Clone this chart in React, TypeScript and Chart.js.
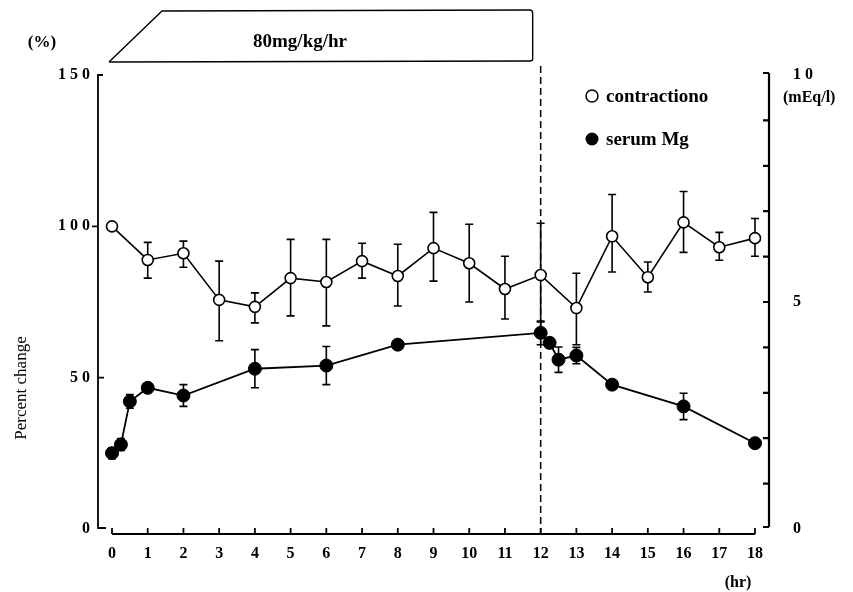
import React, { useEffect, useRef } from 'react';
import { Chart, registerables } from 'chart.js';

Chart.register(...registerables);

// ---- data ----
const hours = [0, 1, 2, 3, 4, 5, 6, 7, 8, 9, 10, 11, 12, 13, 14, 15, 16, 17, 18];
const contraction = [100, 88.9, 91.1, 75.7, 73.4, 82.9, 81.6, 88.5, 83.6, 92.8, 87.8, 79.3, 83.9, 73.0, 96.7, 83.2, 101.3, 93.1, 96.1];
const contractionHigh = [null, 94.7, 95.1, 88.5, 78.0, 95.7, 95.7, 94.4, 94.1, 104.6, 100.7, 90.1, 101.0, 84.5, 110.5, 88.2, 111.5, 98.0, 102.6];
const contractionLow = [null, 82.9, 86.5, 62.2, 68.1, 70.4, 67.1, 82.9, 73.7, 81.9, 75.0, 69.4, 68.4, 60.9, 84.9, 78.3, 91.4, 88.8, 90.1];

const mgHours = [0, 0.25, 0.5, 1, 2, 4, 6, 8, 12, 12.25, 12.5, 13, 14, 16, 18];
const serumMg = [1.67, 1.86, 2.81, 3.11, 2.94, 3.53, 3.6, 4.06, 4.32, 4.1, 3.73, 3.82, 3.18, 2.7, 1.89];
const serumMgErr = [0.12, 0.13, 0.15, 0.09, 0.24, 0.42, 0.42, 0.09, 0.26, 0.1, 0.28, 0.18, 0.1, 0.29, 0.1];

const leftTicks = [0, 50, 100, 150];
const rightTicks = [0, 5, 10];
const infusionStart = 0;
const infusionEnd = 12;
const infusionLabel = '80mg/kg/hr';

const SERIF = '"Liberation Serif", "DejaVu Serif", serif';
const spaced = (v: number) => String(v).split('').join(' ');

const overlay = {
  id: 'overlay',
  beforeDatasetsDraw(chart: any) {
    const ctx = chart.ctx;
    const xs = chart.scales.x;
    const ys = chart.scales.y;
    const y1 = chart.scales.y1;
    ctx.save();
    // dashed line at end of infusion
    ctx.strokeStyle = '#000';
    ctx.lineWidth = 1.5;
    ctx.setLineDash([7, 4]);
    const dx = xs.getPixelForValue(infusionEnd);
    ctx.beginPath();
    ctx.moveTo(dx, 66);
    ctx.lineTo(dx, chart.chartArea.bottom + 5);
    ctx.stroke();
    ctx.setLineDash([]);
    // error bars
    const cap = 4;
    ctx.lineWidth = 1.6;
    hours.forEach((h, i) => {
      if (contractionHigh[i] == null) return;
      const px = xs.getPixelForValue(h);
      const top = ys.getPixelForValue(contractionHigh[i] as number);
      const bot = ys.getPixelForValue(contractionLow[i] as number);
      ctx.beginPath();
      ctx.moveTo(px, top); ctx.lineTo(px, bot);
      ctx.moveTo(px - cap, top); ctx.lineTo(px + cap, top);
      ctx.moveTo(px - cap, bot); ctx.lineTo(px + cap, bot);
      ctx.stroke();
    });
    mgHours.forEach((h, i) => {
      const px = xs.getPixelForValue(h);
      const top = y1.getPixelForValue(serumMg[i] + serumMgErr[i]);
      const bot = y1.getPixelForValue(serumMg[i] - serumMgErr[i]);
      ctx.beginPath();
      ctx.moveTo(px, top); ctx.lineTo(px, bot);
      ctx.moveTo(px - cap, top); ctx.lineTo(px + cap, top);
      ctx.moveTo(px - cap, bot); ctx.lineTo(px + cap, bot);
      ctx.stroke();
    });
    ctx.restore();
  },
  afterDraw(chart: any) {
    const ctx = chart.ctx;
    const xs = chart.scales.x;
    const ys = chart.scales.y;
    const y1 = chart.scales.y1;
    const ca = chart.chartArea;
    ctx.save();
    ctx.strokeStyle = '#000';
    ctx.fillStyle = '#000';
    ctx.lineWidth = 1.8;
    // left axis
    const lx = ca.left;
    ctx.beginPath();
    ctx.moveTo(lx + 5, ys.getPixelForValue(150));
    ctx.lineTo(lx, ys.getPixelForValue(150));
    ctx.lineTo(lx, ys.getPixelForValue(0) - 1);
    ctx.lineTo(lx + 8, ys.getPixelForValue(0) - 1);
    ctx.moveTo(lx - 6, ys.getPixelForValue(100));
    ctx.lineTo(lx, ys.getPixelForValue(100));
    ctx.moveTo(lx, ys.getPixelForValue(50));
    ctx.lineTo(lx + 6, ys.getPixelForValue(50));
    ctx.stroke();
    // x axis
    const xb = ca.bottom + 5;
    ctx.beginPath();
    ctx.moveTo(xs.getPixelForValue(0), xb);
    ctx.lineTo(xs.getPixelForValue(18), xb);
    hours.forEach((h) => {
      const px = xs.getPixelForValue(h);
      ctx.moveTo(px, xb);
      ctx.lineTo(px, xb - 6);
    });
    ctx.stroke();
    // right axis
    const rx = ca.right;
    ctx.lineWidth = 2.2;
    ctx.beginPath();
    ctx.moveTo(rx, y1.getPixelForValue(10) - 2);
    ctx.lineTo(rx, y1.getPixelForValue(0) - 2);
    for (let v = 0; v <= 10; v++) {
      const py = y1.getPixelForValue(v) - (v === 0 ? 2 : v === 10 ? 2 : 0);
      ctx.moveTo(rx, py);
      ctx.lineTo(rx - 6, py);
    }
    ctx.stroke();

    // infusion box
    ctx.lineWidth = 1.4;
    const bx0 = xs.getPixelForValue(infusionStart) - 3;
    const bx1 = xs.getPixelForValue(infusionEnd) - 8;
    ctx.beginPath();
    ctx.moveTo(bx0, 62);
    ctx.lineTo(bx0 + 53, 11);
    ctx.lineTo(bx1 - 3, 10);
    ctx.quadraticCurveTo(bx1, 10, bx1, 13);
    ctx.lineTo(bx1, 59);
    ctx.quadraticCurveTo(bx1, 61, bx1 - 3, 61);
    ctx.lineTo(bx0, 62);
    ctx.stroke();

    ctx.textBaseline = 'middle';
    ctx.font = `bold 19px ${SERIF}`;
    ctx.textAlign = 'center';
    ctx.fillText(infusionLabel, 300, 42);

    // (%)
    ctx.font = `bold 17px ${SERIF}`;
    ctx.fillText('(%)', 42, 43);

    // legend
    ctx.textAlign = 'left';
    ctx.font = `bold 19px ${SERIF}`;
    ctx.lineWidth = 1.5;
    ctx.beginPath();
    ctx.arc(592, 96, 6, 0, Math.PI * 2);
    ctx.stroke();
    ctx.fillText('contractiono', 606, 97);
    ctx.beginPath();
    ctx.arc(592, 139, 6.5, 0, Math.PI * 2);
    ctx.fill();
    ctx.fillText('serum Mg', 606, 140);

    // right axis unit
    ctx.font = `bold 16px ${SERIF}`;
    ctx.fillText('(mEq/l)', 783, 98);

    // (hr)
    ctx.textAlign = 'center';
    ctx.fillText('(hr)', 738, 583);

    // Percent change
    ctx.font = `17px ${SERIF}`;
    ctx.translate(22, 388);
    ctx.rotate(-Math.PI / 2);
    ctx.fillText('Percent change', 0, 0);
    ctx.restore();
  },
};

export default function App() {
  const ref = useRef<HTMLCanvasElement | null>(null);
  useEffect(() => {
    document.body.style.margin = '0';
    const canvas = ref.current;
    if (!canvas) return;
    const pxPerHr = (755 - 112) / 18;
    const xMin = -(112 - 98) / pxPerHr;
    const xMax = 18 + (769 - 755) / pxPerHr;
    const tickFont = { family: SERIF, size: 16, weight: 'bold' as const };
    const chart = new Chart(canvas, {
      type: 'line',
      data: {
        datasets: [
          {
            label: 'contractiono',
            data: hours.map((h, i) => ({ x: h, y: contraction[i] })),
            yAxisID: 'y',
            borderColor: '#000',
            borderWidth: 1.6,
            pointStyle: 'circle',
            pointRadius: 5.5,
            pointBackgroundColor: '#fff',
            pointBorderColor: '#000',
            pointBorderWidth: 1.6,
            tension: 0,
          },
          {
            label: 'serum Mg',
            data: mgHours.map((h, i) => ({ x: h, y: serumMg[i] })),
            yAxisID: 'y1',
            borderColor: '#000',
            borderWidth: 1.8,
            pointStyle: 'circle',
            pointRadius: 6.5,
            pointBackgroundColor: '#000',
            pointBorderColor: '#000',
            pointBorderWidth: 1,
            tension: 0,
          },
        ],
      },
      options: {
        animation: false,
        responsive: false,
        maintainAspectRatio: false,
        layout: { padding: { top: 75, left: 0, right: 0, bottom: 0 } },
        plugins: { legend: { display: false }, tooltip: { enabled: false } },
        scales: {
          x: {
            type: 'linear',
            min: xMin,
            max: xMax,
            afterFit: (s: any) => { s.height = 63; },
            grid: { display: false, drawTicks: false },
            border: { display: false },
            ticks: {
              stepSize: 1,
              includeBounds: false,
              autoSkip: false,
              maxRotation: 0,
              padding: 15,
              color: '#000',
              font: tickFont,
              callback: (v: any) => (Number.isInteger(v) && v >= 0 && v <= 18 ? String(v) : ''),
            },
          },
          y: {
            position: 'left',
            min: 0,
            max: 150,
            afterFit: (s: any) => { s.width = 98; },
            afterBuildTicks: (s: any) => { s.ticks = leftTicks.map((v) => ({ value: v })); },
            grid: { display: false, drawTicks: false },
            border: { display: false },
            ticks: { padding: 8, color: '#000', font: tickFont, callback: (v: any) => spaced(v) },
          },
          y1: {
            position: 'right',
            min: 0,
            max: 10,
            afterFit: (s: any) => { s.width = 853 - 769; },
            afterBuildTicks: (s: any) => { s.ticks = rightTicks.map((v) => ({ value: v })); },
            grid: { display: false, drawTicks: false },
            border: { display: false },
            ticks: { padding: 24, color: '#000', font: tickFont, callback: (v: any) => spaced(v) },
          },
        },
      },
      plugins: [overlay],
    });
    return () => chart.destroy();
  }, []);
  return <canvas ref={ref} width={853} height={592} style={{ display: 'block' }} />;
}
